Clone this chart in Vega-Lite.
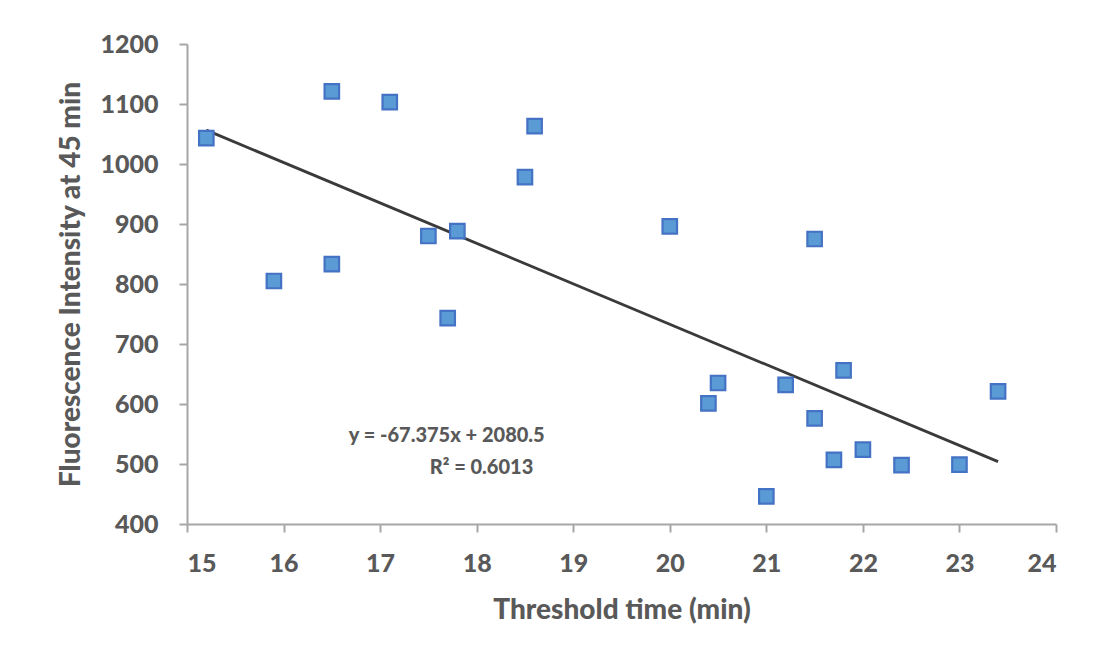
{
  "$schema": "https://vega.github.io/schema/vega-lite/v6.json",
  "width": 869,
  "height": 480,
  "autosize": {"type": "none"},
  "padding": {"left": 187, "top": 44, "right": 41, "bottom": 129},
  "background": "white",
  "config": {
    "view": {"stroke": null},
    "font": "Lato",
    "axis": {
      "grid": false,
      "domainColor": "#A6A6A6",
      "domainWidth": 2,
      "tickColor": "#A6A6A6",
      "tickWidth": 2,
      "tickSize": 8,
      "labelFont": "Lato",
      "labelFontWeight": 900,
      "labelFontSize": 25,
      "labelColor": "#595959",
      "titleFont": "Lato",
      "titleFontWeight": 900,
      "titleFontSize": 28,
      "titleColor": "#595959",
      "format": "d"
    }
  },
  "datasets": {
    "points": [
      {"t": 15.2, "f": 1043},
      {"t": 16.5, "f": 1121},
      {"t": 17.1, "f": 1103},
      {"t": 15.9, "f": 805},
      {"t": 16.5, "f": 833},
      {"t": 17.5, "f": 880},
      {"t": 17.8, "f": 888},
      {"t": 17.7, "f": 743},
      {"t": 18.5, "f": 978},
      {"t": 18.6, "f": 1063},
      {"t": 20.0, "f": 896},
      {"t": 21.5, "f": 875},
      {"t": 20.4, "f": 601},
      {"t": 20.5, "f": 635},
      {"t": 21.2, "f": 632},
      {"t": 21.8, "f": 656},
      {"t": 21.5, "f": 576},
      {"t": 21.0, "f": 446},
      {"t": 21.7, "f": 507},
      {"t": 22.0, "f": 524},
      {"t": 22.4, "f": 498},
      {"t": 23.0, "f": 499},
      {"t": 23.4, "f": 621}
    ],
    "trend": [
      {"t": 15.2, "f": 1056.4},
      {"t": 23.4, "f": 503.9}
    ],
    "labels": [
      {"t": 17.69, "f": 547, "label": "y = -67.375x + 2080.5"},
      {"t": 18.05, "f": 494, "label": "R² = 0.6013"}
    ]
  },
  "layer": [
    {
      "data": {"name": "trend"},
      "mark": {"type": "line", "color": "#3A3A3A", "strokeWidth": 2.8},
      "encoding": {
        "x": {"field": "t", "type": "quantitative"},
        "y": {"field": "f", "type": "quantitative"}
      }
    },
    {
      "data": {"name": "points"},
      "mark": {"type": "point", "shape": "square", "filled": true, "fill": "#5B9BD5", "stroke": "#4472C4", "strokeWidth": 2.2, "size": 210, "opacity": 1},
      "encoding": {
        "x": {
          "field": "t", "type": "quantitative",
          "scale": {"domain": [15, 24], "nice": false, "zero": false},
          "axis": {"title": "Threshold time (min)", "values": [15,16,17,18,19,20,21,22,23,24], "labelPadding": 19, "titlePadding": 20}
        },
        "y": {
          "field": "f", "type": "quantitative",
          "scale": {"domain": [400, 1200], "nice": false, "zero": false},
          "axis": {"title": "Fluorescence Intensity at 45 min", "values": [400,500,600,700,800,900,1000,1100,1200], "labelPadding": 21, "titlePadding": 14}
        }
      }
    },
    {
      "data": {"name": "labels"},
      "mark": {"type": "text", "font": "Lato", "fontWeight": 900, "fontSize": 20, "color": "#595959", "align": "center", "baseline": "middle"},
      "encoding": {
        "x": {"field": "t", "type": "quantitative"},
        "y": {"field": "f", "type": "quantitative"},
        "text": {"field": "label"}
      }
    }
  ]
}
